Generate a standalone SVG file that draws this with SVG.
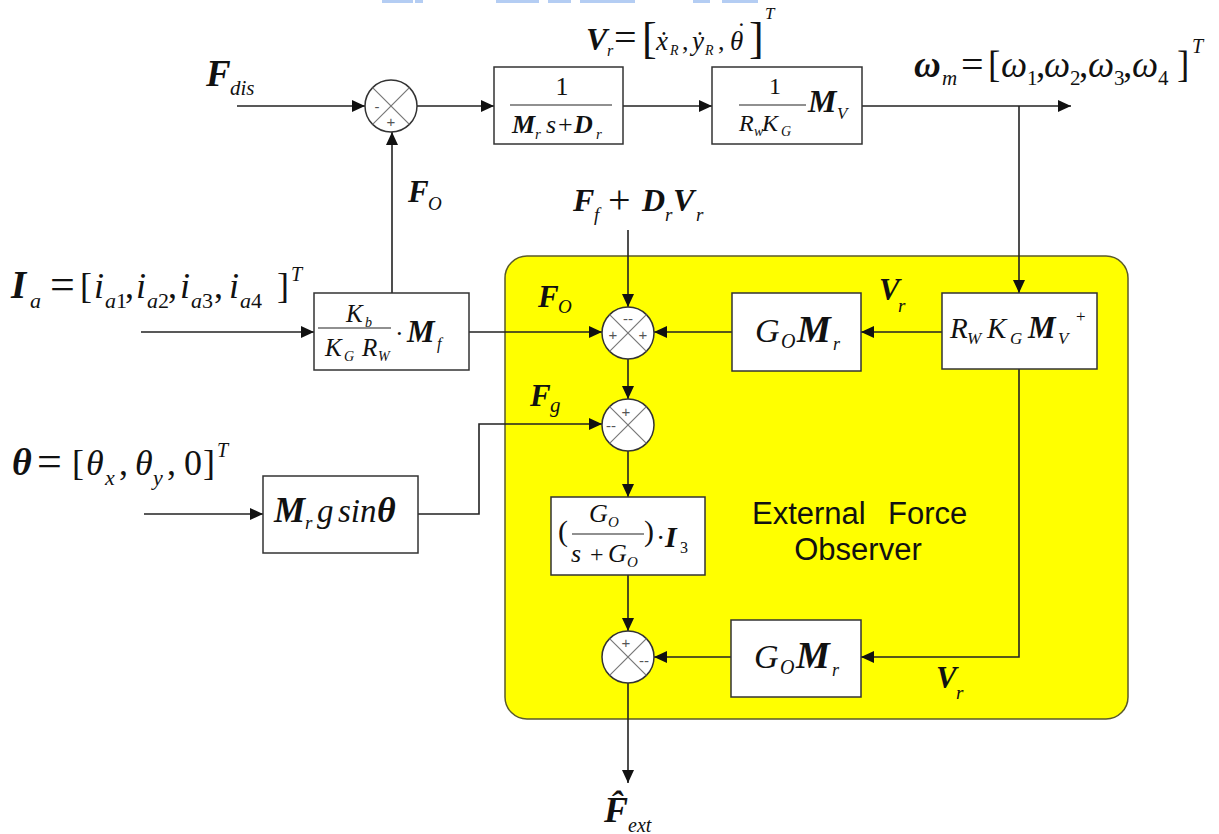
<svg xmlns="http://www.w3.org/2000/svg" width="1219" height="834" viewBox="0 0 1219 834">
<style>
.m{font-family:"Liberation Serif","Times New Roman",serif;font-style:italic;fill:#111}
.r{font-family:"Liberation Serif","Times New Roman",serif;font-style:normal;fill:#111}
.b{font-weight:bold}
.sans{font-family:"Liberation Sans",Arial,sans-serif;fill:#111}
.blk{fill:#fff;stroke:#333;stroke-width:1.5}
.sum{fill:#fff;stroke:#333;stroke-width:1.5}
.x{stroke:#777;stroke-width:1.2}
.sg{font-family:"Liberation Sans",Arial,sans-serif;font-size:15px;fill:#555;text-anchor:middle;dominant-baseline:central}
.w{fill:none;stroke:#222;stroke-width:1.6}
.fl{stroke:#222;stroke-width:1.2}
</style>
<defs>
<marker id="ar" markerUnits="userSpaceOnUse" markerWidth="13" markerHeight="12" refX="13" refY="6" orient="auto">
<path d="M0,0 L13,6 L0,12 z" fill="#111"/>
</marker>
</defs>
<rect width="1219" height="834" fill="#fff"/>
<g id="topbars" fill="#b4cdf3">
<rect x="382" y="0" width="31" height="3"/><rect x="415" y="0" width="8" height="3"/><rect x="496" y="0" width="43" height="3"/><rect x="548" y="0" width="23" height="3"/><rect x="580" y="0" width="55" height="3"/><rect x="693" y="0" width="17" height="3"/><rect x="722" y="0" width="36" height="3"/>
</g>
<g id="observer">
<rect x="505" y="256" width="623" height="463" rx="22" fill="#ffff00" stroke="#5a5a2a" stroke-width="1.5"/>
<text class="sans" font-size="31" x="752" y="524">External</text>
<text class="sans" font-size="31" x="888" y="524">Force</text>
<text class="sans" font-size="31" x="858" y="560" text-anchor="middle">Observer</text>
</g>
<g id="connectors" class="w">
<line x1="237" y1="106" x2="365" y2="106" marker-end="url(#ar)"/>
<line x1="417" y1="106" x2="494" y2="106" marker-end="url(#ar)"/>
<line x1="623" y1="106" x2="712" y2="106" marker-end="url(#ar)"/>
<line x1="862" y1="106" x2="1071" y2="106" marker-end="url(#ar)"/>
<line x1="1019" y1="106" x2="1019" y2="293" marker-end="url(#ar)"/>
<line x1="392" y1="293" x2="392" y2="132" marker-end="url(#ar)"/>
<line x1="141" y1="332" x2="314" y2="332" marker-end="url(#ar)"/>
<line x1="469" y1="332" x2="602" y2="332" marker-end="url(#ar)"/>
<line x1="628" y1="230" x2="628" y2="307" marker-end="url(#ar)"/>
<line x1="942" y1="332" x2="861" y2="332" marker-end="url(#ar)"/>
<line x1="732" y1="332" x2="654" y2="332" marker-end="url(#ar)"/>
<line x1="628" y1="358" x2="628" y2="399" marker-end="url(#ar)"/>
<polyline points="418,514 479,514 479,424 602,424" marker-end="url(#ar)"/>
<line x1="144" y1="514" x2="263" y2="514" marker-end="url(#ar)"/>
<line x1="628" y1="450" x2="628" y2="497" marker-end="url(#ar)"/>
<line x1="628" y1="575" x2="628" y2="631" marker-end="url(#ar)"/>
<polyline points="1019,369 1019,657 861,657" marker-end="url(#ar)"/>
<line x1="731" y1="657" x2="654" y2="657" marker-end="url(#ar)"/>
<line x1="628" y1="683" x2="628" y2="783" marker-end="url(#ar)"/>
</g>
<g id="sum1">
<circle class="sum" cx="391" cy="106" r="26"/>
<line class="x" x1="372.6" y1="87.6" x2="409.4" y2="124.4"/><line class="x" x1="409.4" y1="87.6" x2="372.6" y2="124.4"/>
<text class="sg" x="377" y="106">-</text><text class="sg" x="391" y="121">+</text>
</g>
<g id="sum2">
<circle class="sum" cx="628" cy="333" r="26"/>
<line class="x" x1="609.6" y1="314.6" x2="646.4" y2="351.4"/><line class="x" x1="646.4" y1="314.6" x2="609.6" y2="351.4"/>
<text class="sg" x="628" y="318">--</text><text class="sg" x="613" y="334">+</text><text class="sg" x="643" y="334">+</text>
</g>
<g id="sum3">
<circle class="sum" cx="628" cy="425" r="26"/>
<line class="x" x1="609.6" y1="406.6" x2="646.4" y2="443.4"/><line class="x" x1="646.4" y1="406.6" x2="609.6" y2="443.4"/>
<text class="sg" x="626" y="411">+</text><text class="sg" x="611" y="425">--</text>
</g>
<g id="sum4">
<circle class="sum" cx="628" cy="657" r="26"/>
<line class="x" x1="609.6" y1="638.6" x2="646.4" y2="675.4"/><line class="x" x1="646.4" y1="638.6" x2="609.6" y2="675.4"/>
<text class="sg" x="626" y="642">+</text><text class="sg" x="644" y="660">--</text>
</g>
<g id="block1">
<rect class="blk" x="494" y="67" width="129" height="77"/>
<text class="r" font-size="26" x="562" y="95" text-anchor="middle">1</text>
<line class="fl" x1="510" y1="105" x2="612" y2="105"/>
<text class="m" font-size="26" y="133"><tspan class="b" x="512">M</tspan><tspan font-size="15" x="535" y="139">r</tspan><tspan x="546" y="133">s</tspan><tspan class="r" x="558">+</tspan><tspan class="b" x="574">D</tspan><tspan font-size="15" x="596" y="139">r</tspan></text>
</g>
<g id="block2">
<rect class="blk" x="712" y="67" width="150" height="77"/>
<text class="r" font-size="24" x="775" y="94" text-anchor="middle">1</text>
<line class="fl" x1="739" y1="105" x2="806" y2="105"/>
<text class="m" font-size="24" y="131"><tspan x="739">R</tspan><tspan font-size="14" x="754" y="136">w</tspan><tspan x="762" y="131">K</tspan><tspan font-size="14" x="781" y="136">G</tspan></text>
<text class="m" font-size="32" y="112"><tspan class="b" x="808">M</tspan><tspan font-size="17" x="837" y="119">V</tspan></text>
</g>
<g id="blockKb">
<rect class="blk" x="314" y="293" width="155" height="77"/>
<text class="m" font-size="25" y="322"><tspan x="346">K</tspan><tspan font-size="14" x="365" y="327">b</tspan></text>
<line class="fl" x1="318" y1="328" x2="391" y2="328"/>
<text class="m" font-size="25" y="356"><tspan x="325">K</tspan><tspan font-size="14" x="344" y="361">G</tspan><tspan x="362" y="356">R</tspan><tspan font-size="14" x="378" y="361">W</tspan></text>
<text class="r" font-size="26" y="342"><tspan x="395">·</tspan><tspan class="m b" font-size="31" x="407">M</tspan><tspan class="m" font-size="16" x="437" y="349">f</tspan></text>
</g>
<g id="blockGoMr1">
<rect class="blk" x="732" y="293" width="129" height="78"/>
<text class="m" font-size="34" y="342"><tspan x="755">G</tspan><tspan font-size="20" x="781" y="348">O</tspan><tspan class="b" font-size="38" x="797" y="342">M</tspan><tspan font-size="18" x="833" y="350">r</tspan></text>
</g>
<g id="blockRw">
<rect class="blk" x="942" y="293" width="155" height="76"/>
<text class="m" font-size="29" y="338"><tspan x="950">R</tspan><tspan font-size="17" x="967" y="344">W</tspan><tspan x="987" y="338">K</tspan><tspan font-size="17" x="1010" y="344">G</tspan><tspan class="b" font-size="31" x="1028" y="338">M</tspan><tspan font-size="17" x="1058" y="344">V</tspan><tspan class="r" font-size="17" x="1076" y="322">+</tspan></text>
</g>
<g id="blockMrg">
<rect class="blk" x="263" y="476" width="155" height="77"/>
<text class="m" font-size="33" y="522"><tspan class="b" font-size="35" x="274">M</tspan><tspan font-size="19" x="305" y="529">r</tspan><tspan x="317" y="522">g</tspan><tspan x="338">sin</tspan><tspan class="b" font-size="36" x="377">θ</tspan></text>
</g>
<g id="block3">
<rect class="blk" x="551" y="497" width="154" height="78"/>
<text class="r" font-size="30" x="558" y="541">(</text>
<text class="m" font-size="26" y="522"><tspan x="589">G</tspan><tspan font-size="15" x="608" y="527">O</tspan></text>
<line class="fl" x1="572" y1="534" x2="644" y2="534"/>
<text class="m" font-size="26" y="562"><tspan x="571">s</tspan><tspan class="r" font-size="24" x="590">+</tspan><tspan x="608">G</tspan><tspan font-size="15" x="627" y="567">O</tspan></text>
<text class="r" font-size="30" x="644" y="541">)</text>
<text class="r" font-size="28" y="547"><tspan x="656">·</tspan><tspan class="m b" font-size="30" x="665">I</tspan><tspan font-size="16" x="680" y="553">3</tspan></text>
</g>
<g id="blockGoMr2">
<rect class="blk" x="731" y="620" width="130" height="77"/>
<text class="m" font-size="34" y="668"><tspan x="754">G</tspan><tspan font-size="20" x="780" y="674">O</tspan><tspan class="b" font-size="38" x="796" y="668">M</tspan><tspan font-size="18" x="832" y="676">r</tspan></text>
</g>
<g id="labels">
<text class="m" font-size="37" x="206" y="86"><tspan class="b">F</tspan><tspan font-size="21" x="230" y="95">dis</tspan></text>
<text class="m" font-size="32" y="50"><tspan class="b" x="586">V</tspan><tspan font-size="16" x="607" y="56">r</tspan><tspan class="r" font-size="40" x="614" y="51">=</tspan><tspan class="r" font-size="44" x="642" y="53">[</tspan><tspan font-size="27" x="656" y="50">ẋ</tspan><tspan font-size="14" x="670" y="55">R</tspan><tspan class="r" font-size="26" x="682" y="50">,</tspan><tspan font-size="27" x="692">ẏ</tspan><tspan font-size="14" x="705" y="55">R</tspan><tspan class="r" font-size="26" x="718" y="50">,</tspan><tspan font-size="27" x="730">θ</tspan><tspan class="r" font-size="26" x="737" y="40">˙</tspan><tspan class="r" font-size="44" x="749" y="53">]</tspan><tspan font-size="17" x="765" y="19">T</tspan></text>
<text class="m" font-size="37" y="77"><tspan class="b" x="914">ω</tspan><tspan font-size="21" x="942" y="85">m</tspan><tspan class="r" font-size="40" x="961" y="78">=</tspan><tspan class="r" x="988" y="77">[</tspan><tspan x="1001">ω</tspan><tspan class="r" font-size="21" x="1027" y="85">1</tspan><tspan class="r" x="1036" y="77">,</tspan><tspan x="1044">ω</tspan><tspan class="r" font-size="21" x="1070" y="85">2</tspan><tspan class="r" x="1079" y="77">,</tspan><tspan x="1088">ω</tspan><tspan class="r" font-size="21" x="1114" y="85">3</tspan><tspan class="r" x="1123" y="77">,</tspan><tspan x="1132">ω</tspan><tspan class="r" font-size="21" x="1158" y="85">4</tspan><tspan class="r" x="1177" y="77">]</tspan><tspan font-size="20" x="1192" y="53">T</tspan></text>
<text class="m" font-size="31" x="408" y="202"><tspan class="b">F</tspan><tspan font-size="19" x="428" y="210">O</tspan></text>
<text class="m" font-size="36" y="298"><tspan class="b" font-size="39" x="11">I</tspan><tspan font-size="22" x="30" y="308">a</tspan><tspan class="r" font-size="44" x="50" y="299">=</tspan><tspan class="r" x="80" y="298">[</tspan><tspan x="94">i</tspan><tspan font-size="22" x="105" y="308">a</tspan><tspan class="r" font-size="22" x="116">1</tspan><tspan class="r" x="125" y="298">,</tspan><tspan x="136">i</tspan><tspan font-size="22" x="147" y="308">a</tspan><tspan class="r" font-size="22" x="158">2</tspan><tspan class="r" x="168" y="298">,</tspan><tspan x="180">i</tspan><tspan font-size="22" x="191" y="308">a</tspan><tspan class="r" font-size="22" x="202">3</tspan><tspan class="r" x="214" y="298">,</tspan><tspan x="229">i</tspan><tspan font-size="22" x="240" y="308">a</tspan><tspan class="r" font-size="22" x="251">4</tspan><tspan class="r" x="277" y="298">]</tspan><tspan font-size="20" x="291" y="281">T</tspan></text>
<text class="m" font-size="32" y="211"><tspan class="b" x="573">F</tspan><tspan font-size="19" x="594" y="221">f</tspan><tspan class="r" font-size="40" x="608" y="213">+</tspan><tspan class="b" x="642" y="211">D</tspan><tspan font-size="19" x="665" y="221">r</tspan><tspan class="b" x="673" y="211">V</tspan><tspan font-size="19" x="696" y="221">r</tspan></text>
<text class="m" font-size="31" x="538" y="307"><tspan class="b">F</tspan><tspan font-size="19" x="558" y="313">O</tspan></text>
<text class="m" font-size="31" x="879" y="300"><tspan class="b">V</tspan><tspan font-size="19" x="898" y="312">r</tspan></text>
<text class="m" font-size="31" x="530" y="406"><tspan class="b">F</tspan><tspan font-size="21" x="550" y="412">g</tspan></text>
<text class="m" font-size="36" y="475"><tspan class="b" font-size="38" x="12">θ</tspan><tspan class="r" font-size="44" x="37" y="476">=</tspan><tspan class="r" x="72" y="475">[</tspan><tspan x="86">θ</tspan><tspan font-size="22" x="105" y="485">x</tspan><tspan class="r" x="119" y="475">,</tspan><tspan x="135">θ</tspan><tspan font-size="22" x="153" y="485">y</tspan><tspan class="r" x="167" y="475">,</tspan><tspan class="r" x="184">0</tspan><tspan class="r" x="203">]</tspan><tspan font-size="20" x="217" y="457">T</tspan></text>
<text class="m" font-size="31" x="936" y="688"><tspan class="b">V</tspan><tspan font-size="19" x="956" y="699">r</tspan></text>
<text class="m" font-size="36" x="604" y="822"><tspan class="b">F̂</tspan><tspan font-size="20" x="628" y="832">ext</tspan></text>
</g>
</svg>
